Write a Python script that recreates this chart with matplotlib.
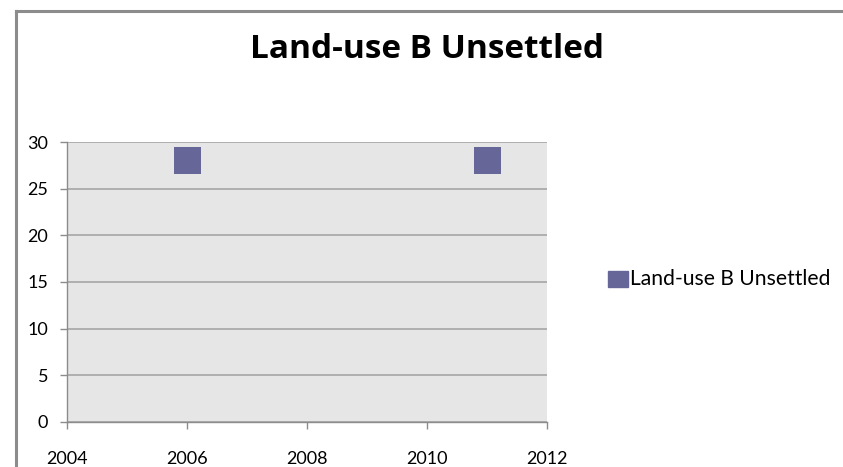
import matplotlib
matplotlib.use("Agg")
import matplotlib.pyplot as plt
from matplotlib.lines import Line2D
from matplotlib.patches import Rectangle

years = [2006, 2011]
values = [28, 28]
series_name = "Land-use B Unsettled"
x_ticks = [2004, 2006, 2008, 2010, 2012]
y_ticks = [0, 5, 10, 15, 20, 25, 30]

W, H = 843, 467
fig = plt.figure(figsize=(W / 100, H / 100), dpi=100)
fig.patch.set_facecolor("white")

# chart frame (only top and left edges fall inside the image)
fig.add_artist(Line2D([15.5 / W, 15.5 / W], [0, 1 - 10.5 / H], color="#8c8c8c", lw=2.2,
                      transform=fig.transFigure))
fig.add_artist(Line2D([15.5 / W, 1], [1 - 10.5 / H, 1 - 10.5 / H], color="#8c8c8c", lw=2.2,
                      transform=fig.transFigure))

left, right, top, bottom = 67, 547, 142.3, 421.7
ax = fig.add_axes([left / W, 1 - bottom / H, (right - left) / W, (bottom - top) / H])
ax.set_facecolor("#e6e6e6")

ax.scatter(years, values, marker="s", s=(27 * 0.72) ** 2, color="#666699",
           edgecolors="none", zorder=3)

ax.set_xlim(2004, 2012)
ax.set_ylim(0, 30)
ax.set_xticks(x_ticks)
ax.set_yticks(y_ticks)
ax.yaxis.grid(True, color="#a6a6a6", lw=1.2)
ax.set_axisbelow(True)

for s in ("top", "right"):
    ax.spines[s].set_visible(False)
for s in ("left", "bottom"):
    ax.spines[s].set_color("#8c8c8c")
    ax.spines[s].set_linewidth(1.0)

font = "Lato"
ax.tick_params(axis="both", colors="#8c8c8c", labelcolor="black", labelsize=13,
               length=5, width=1)
ax.tick_params(axis="x", pad=16)
ax.tick_params(axis="y", pad=8.6)
for lbl in ax.get_xticklabels() + ax.get_yticklabels():
    lbl.set_fontfamily(font)

fig.text(427 / W, 1 - 49 / H, series_name, ha="center", va="center",
         fontsize=24, fontweight="bold", family="Open Sans")

# legend
fig.add_artist(Rectangle((608 / W, 1 - 287 / H), 20 / W, 16 / H, color="#666699",
                         transform=fig.transFigure))
fig.text(630 / W, 1 - 279 / H, series_name, ha="left", va="center",
         fontsize=15.2, family=font)

fig.savefig("out.png", dpi=100)
